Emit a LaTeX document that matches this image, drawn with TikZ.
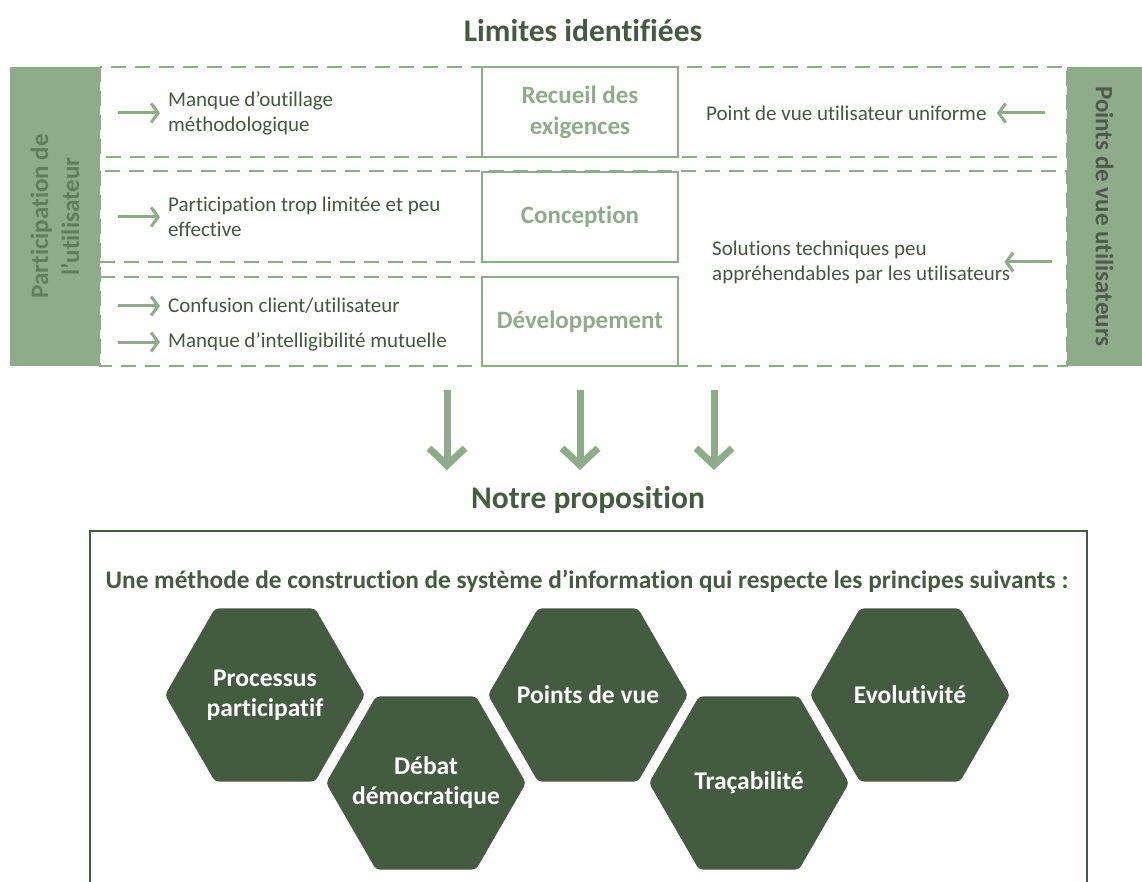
\documentclass[tikz,border=0pt]{standalone}
\usepackage{fontspec}
\setmainfont{Carlito}[Ligatures=CommonOff]
\usepackage{tikz}
\usetikzlibrary{shapes.geometric, arrows.meta, positioning, calc}
\usepackage{xcolor}
\definecolor{sage}{HTML}{8FAC8A}
\definecolor{deepgreen}{HTML}{455B41}
\definecolor{inkgreen}{HTML}{44573F}
\definecolor{barleft}{HTML}{5F7E5A}
\definecolor{barright}{HTML}{4D5C4A}

\begin{document}
\begin{tikzpicture}[
    x=1pt, y=-1pt,
    every node/.style={font=\fontsize{21}{25}\selectfont},
    heading/.style={font=\bfseries\fontsize{31.5}{36}\selectfont, text=deepgreen, inner sep=0pt},
    rowline/.style={draw=sage, line width=2.5pt, dash pattern=on 15pt off 9pt},
    stagebox/.style={draw=sage, line width=2.5pt, fill=white, minimum width=196pt, minimum height=90pt, align=center, text=sage, font=\bfseries\fontsize{25}{31}\selectfont},
    sidebar/.style={fill=sage, minimum width=299pt, minimum height=90pt, inner sep=0pt, align=center, font=\bfseries\fontsize{25}{31}\selectfont},
    limittext/.style={anchor=west, align=left, inner sep=0pt, text=inkgreen},
    smallarrow/.style={-{Straight Barb[length=7pt, width=19pt]}, draw=sage, line width=3pt},
    bigarrow/.style={-{Straight Barb[length=17pt, width=36pt]}, draw=sage, line width=7pt},
    principle/.style={regular polygon, regular polygon sides=6, minimum size=200pt, inner sep=0pt, rounded corners=4pt, fill=deepgreen},
    principletext/.style={text=white, align=center, font=\bfseries\fontsize{25.5}{30}\selectfont}
]
    \useasboundingbox (0,0) rectangle (1142,882);

    % limites identifiees
    \node[heading] (limites) at (583,31) {Limites identifiées};

    \draw[rowline] (100,67) rectangle (1067,157);
    \draw[rowline] (100,171) rectangle (1067,366);
    \draw[rowline] (100,262) -- (482,262);
    \draw[rowline] (100,277) -- (482,277);

    \node[stagebox] (recueil) at (580,112) {Recueil des\\exigences};
    \node[stagebox] (conception) at (580,217) {Conception};
    \node[stagebox, minimum height=89pt] (developpement) at (580,321.5) {Développement};

    \node[sidebar, rotate=90, text=barleft] (participation) at (55,216.5) {Participation de\\l’utilisateur};
    \node[sidebar, rotate=-90, minimum height=75pt, text=barright] (pointsvueutil) at (1104.5,216.5) {Points de vue utilisateurs};

    \node[limittext] (outillage) at (168,113) {Manque d’outillage\\méthodologique};
    \node[limittext] (limitee) at (168,217) {Participation trop limitée et peu\\effective};
    \node[limittext] (confusion) at (168,306) {Confusion client/utilisateur};
    \node[limittext] (intelligib) at (168,342) {Manque d’intelligibilité mutuelle};
    \node[limittext] (uniforme) at (706,113) {Point de vue utilisateur uniforme};
    \node[limittext] (solutions) at (712,262) {Solutions techniques peu\\appréhendables par les utilisateurs};

    \coordinate (outillagein) at (118,113);
    \coordinate (limiteein) at (118,217);
    \coordinate (confusionin) at (118,306);
    \coordinate (intelligibin) at (118,342);
    \coordinate (uniformein) at (1045,113);
    \coordinate (solutionsin) at (1052,262);

    \draw[smallarrow, shorten >=8pt] (outillagein) -- (outillage.west);
    \draw[smallarrow, shorten >=8pt] (limiteein) -- (limitee.west);
    \draw[smallarrow, shorten >=8pt] (confusionin) -- (confusion.west);
    \draw[smallarrow, shorten >=8pt] (intelligibin) -- (intelligib.west);
    \draw[smallarrow, shorten >=10pt] (uniformein) -- (uniforme.east);
    \draw[smallarrow, shorten >=-6pt] (solutionsin) -- (solutions.east);

    % vers la proposition
    \coordinate (downa) at (447,390);
    \coordinate (downatip) at (447,470);
    \coordinate (downb) at (580,390);
    \coordinate (downbtip) at (580,470);
    \coordinate (downc) at (714,390);
    \coordinate (downctip) at (714,470);
    \draw[bigarrow] (downa) -- (downatip);
    \draw[bigarrow] (downb) -- (downbtip);
    \draw[bigarrow] (downc) -- (downctip);

    % notre proposition
    \node[heading] (proposition) at (588,500) {Notre proposition};
    \draw[deepgreen, line width=2.5pt] (90,882) |- (1087,531) -- (1087,882);
    \node[text=deepgreen, font=\bfseries\fontsize{25.3}{30}\selectfont] (methode) at (587,581) {Une méthode de construction de système d’information qui respecte les principes suivants :};

    \node[principle, label={[principletext]center:Processus\\participatif}] (processus) at (265,695) {};
    \node[principle, label={[principletext]center:Débat\\démocratique}] (debat) at (426,783) {};
    \node[principle, label={[principletext]center:Points de vue}] (pointsvue) at (588,695) {};
    \node[principle, label={[principletext]center:Traçabilité}] (tracabilite) at (749,783) {};
    \node[principle, label={[principletext]center:Evolutivité}] (evolutivite) at (910,695) {};
\end{tikzpicture}
\end{document}
